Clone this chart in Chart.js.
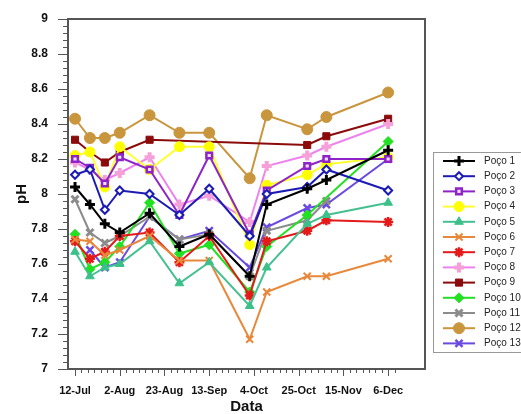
<!DOCTYPE html>
<html>
<head>
<meta charset="utf-8">
<script src="https://cdn.jsdelivr.net/npm/chart.js@4"></script>
<style>
  html, body { margin: 0; padding: 0; background: #fff; }
  #wrap { width: 521px; height: 414px; }
</style>
</head>
<body>
<div id="wrap"><canvas id="myChart" width="521" height="414"></canvas></div>
<script>
// sampling dates as days after 12-Jul
const sampleDays = [0, 7, 14, 21, 35, 49, 63, 82, 90, 109, 118, 147];
const tickLabels = ['12-Jul', '2-Aug', '23-Aug', '13-Sep', '4-Oct', '25-Oct', '15-Nov', '6-Dec'];
const seriesNames = ['Poço 1', 'Poço 2', 'Poço 3', 'Poço 4', 'Poço 5', 'Poço 6', 'Poço 7',
  'Poço 8', 'Poço 9', 'Poço 10', 'Poço 11', 'Poço 12', 'Poço 13'];

const poco1 = [8.04, 7.94, 7.83, 7.78, 7.89, 7.70, 7.77, 7.53, 7.94, 8.03, 8.08, 8.25];
const poco2 = [8.11, 8.14, 7.91, 8.02, 8.00, 7.88, 8.03, 7.76, 8.00, 8.04, 8.14, 8.02];
const poco3 = [8.20, 8.15, 8.06, 8.21, 8.14, 7.88, 8.22, 7.77, 8.02, 8.16, 8.20, 8.20];
const poco4 = [8.22, 8.24, 8.04, 8.27, 8.14, 8.27, 8.27, 7.71, 8.05, 8.11, 8.17, 8.21];
const poco5 = [7.67, 7.53, 7.58, 7.60, 7.73, 7.49, 7.61, 7.36, 7.58, 7.83, 7.88, 7.95];
const poco6 = [7.74, 7.73, 7.65, 7.68, 7.76, 7.62, 7.62, 7.17, 7.44, 7.53, 7.53, 7.63];
const poco7 = [7.73, 7.63, 7.67, 7.76, 7.78, 7.61, 7.76, 7.42, 7.73, 7.79, 7.85, 7.84];
const poco8 = [8.18, 8.14, 8.08, 8.12, 8.21, 7.94, 7.99, 7.84, 8.16, 8.22, 8.27, 8.40];
const poco9 = [8.31, 8.24, 8.18, 8.24, 8.31, null, null, null, null, 8.28, 8.33, 8.43];
const poco10 = [7.77, 7.57, 7.61, 7.70, 7.95, 7.66, 7.71, 7.44, 7.70, 7.88, null, 8.30];
const poco11 = [7.97, 7.78, 7.72, 7.76, 7.87, 7.74, 7.77, 7.53, 7.79, 7.85, 7.96, null];
const poco12 = [8.43, 8.32, 8.32, 8.35, 8.45, 8.35, 8.35, 8.09, 8.45, 8.37, 8.44, 8.58];
const poco13 = [null, 7.68, 7.58, 7.61, 7.87, 7.74, 7.79, 7.58, 7.81, 7.92, 7.94, 8.20];

const allSeries = [poco1, poco2, poco3, poco4, poco5, poco6, poco7, poco8, poco9, poco10, poco11, poco12, poco13];

// line colour, marker style, marker fill, marker edge, radius, edge width
const looks = [
  ['#000000', 'cross',    '#000000', '#000000', 5, 3],
  ['#1c1cb4', 'rectRot',  '#ffffff', '#1c1cb4', 4, 2],
  ['#8e24c8', 'rect',     '#f0e0ff', '#8e24c8', 4, 2.5],
  ['#ffff33', 'circle',   '#ffff00', '#ffff00', 5, 1],
  ['#45c090', 'triangle', '#3cc08a', '#3cc08a', 5, 1],
  ['#e8883a', 'crossRot', '#e8883a', '#e8883a', 5, 2],
  ['#e41a1a', 'star',     '#e41a1a', '#e41a1a', 5, 2.5],
  ['#ee82ee', 'cross',    '#f5a0d8', '#f5a0d8', 5, 4],
  ['#8b0a0a', 'rect',     '#8b0a0a', '#8b0a0a', 5, 1],
  ['#22e022', 'rectRot',  '#22e022', '#22e022', 5, 1],
  ['#8c8c8c', 'crossRot', '#8c8c8c', '#8c8c8c', 5, 3],
  ['#c9963e', 'circle',   '#c9963e', '#c9963e', 5.5, 1],
  ['#6a4ae0', 'crossRot', '#6a4ae0', '#6a4ae0', 5, 2.5]
];

const datasets = allSeries.map(function (vals, i) {
  const lk = looks[i];
  return {
    label: seriesNames[i],
    data: vals.map(function (v, j) { return { x: sampleDays[j], y: v }; }).filter(function (p) { return p.y !== null; }),
    borderColor: lk[0],
    borderWidth: 2,
    pointStyle: lk[1],
    pointBackgroundColor: lk[2],
    pointBorderColor: lk[3],
    pointRadius: lk[4],
    pointBorderWidth: lk[5],
    tension: 0,
    fill: false
  };
});

// box, tick marks and legend
const decoPlugin = {
  id: 'deco',
  afterDraw: function (chart) {
    const ctx = chart.ctx;
    const a = chart.chartArea;
    const xs = chart.scales.x;
    const ys = chart.scales.y;
    ctx.save();
    ctx.strokeStyle = '#555';
    ctx.lineWidth = 1;
    xs.ticks.forEach(function (t) {
      const px = Math.round(xs.getPixelForValue(t.value)) + 0.5;
      const len = t.value % 21 === 0 ? 7 : 4;
      ctx.beginPath(); ctx.moveTo(px, a.bottom); ctx.lineTo(px, a.bottom + len); ctx.stroke();
    });
    ys.ticks.forEach(function (t) {
      const py = Math.round(ys.getPixelForValue(t.value)) + 0.5;
      const major = Math.abs(t.value * 5 - Math.round(t.value * 5)) < 1e-6;
      const len = major ? 10 : 5;
      ctx.beginPath(); ctx.moveTo(a.left - len, py); ctx.lineTo(a.left, py); ctx.stroke();
    });
    ctx.lineWidth = 2;
    ctx.strokeStyle = '#555';
    ctx.strokeRect(a.left, a.top, a.right - a.left, a.bottom - a.top);

    // legend
    const lx = 433, ly = 152, rowH = 15.2;
    ctx.lineWidth = 1;
    ctx.strokeStyle = '#999';
    ctx.strokeRect(lx + 0.5, ly + 0.5, 120, 200);
    ctx.font = '10px "Liberation Sans", Arial, sans-serif';
    ctx.textBaseline = 'middle';
    ctx.textAlign = 'left';
    chart.data.datasets.forEach(function (ds, i) {
      const y = ly + 9 + i * rowH;
      ctx.strokeStyle = ds.borderColor;
      ctx.lineWidth = 2;
      ctx.beginPath(); ctx.moveTo(443, y); ctx.lineTo(475, y); ctx.stroke();
      ctx.fillStyle = ds.pointBackgroundColor;
      ctx.strokeStyle = ds.pointBorderColor;
      ctx.lineWidth = ds.pointBorderWidth;
      Chart.helpers.drawPoint(ctx, {
        pointStyle: ds.pointStyle, radius: ds.pointRadius, rotation: 0, borderWidth: ds.pointBorderWidth
      }, 459, y);
      ctx.fillStyle = '#222';
      ctx.fillText(ds.label, 484, y);
    });
    ctx.restore();
  }
};

const tickFont = { family: '"Liberation Sans", Arial, sans-serif', weight: 'bold' };

new Chart(document.getElementById('myChart'), {
  type: 'line',
  data: { datasets: datasets },
  options: {
    responsive: false,
    animation: false,
    spanGaps: true,
    layout: { padding: { top: 19, right: 96, left: 0, bottom: 0 } },
    plugins: { legend: { display: false }, tooltip: { enabled: false } },
    scales: {
      x: {
        type: 'linear',
        min: -3.3,
        max: 164.3,
        afterBuildTicks: function (scale) {
          const t = [];
          for (let d = 0; d <= 150; d += 3) t.push({ value: d });
          scale.ticks = t;
        },
        afterFit: function (scale) { scale.height = 45; },
        grid: { display: true, drawOnChartArea: false, drawTicks: true, tickLength: 8, tickColor: 'transparent' },
        border: { display: false },
        ticks: {
          autoSkip: false, maxRotation: 0, padding: 7, color: '#111',
          font: Object.assign({ size: 11 }, tickFont),
          callback: function (v) { return v % 21 === 0 ? (tickLabels[v / 21] || '') : ''; }
        },
        title: {
          display: true, text: 'Data', color: '#111',
          font: Object.assign({ size: 15, lineHeight: 1 }, tickFont),
          padding: { top: 0, bottom: 0 }
        }
      },
      y: {
        min: 7,
        max: 9,
        afterBuildTicks: function (scale) {
          const t = [];
          for (let k = 0; k <= 50; k++) t.push({ value: Math.round((7 + k * 0.04) * 100) / 100 });
          scale.ticks = t;
        },
        afterFit: function (scale) { scale.width = 68; },
        grid: { display: true, drawOnChartArea: false, drawTicks: true, tickLength: 10, tickColor: 'transparent' },
        border: { display: false },
        ticks: {
          autoSkip: false, padding: 10, color: '#111',
          font: Object.assign({ size: 12 }, tickFont),
          callback: function (v) {
            return Math.abs(v * 5 - Math.round(v * 5)) < 1e-6 ? String(Math.round(v * 10) / 10) : '';
          }
        },
        title: {
          display: true, text: 'pH', color: '#111',
          font: Object.assign({ size: 15 }, tickFont),
          padding: { top: 13, bottom: 0 }
        }
      }
    }
  },
  plugins: [decoPlugin]
});
</script>
</body>
</html>
